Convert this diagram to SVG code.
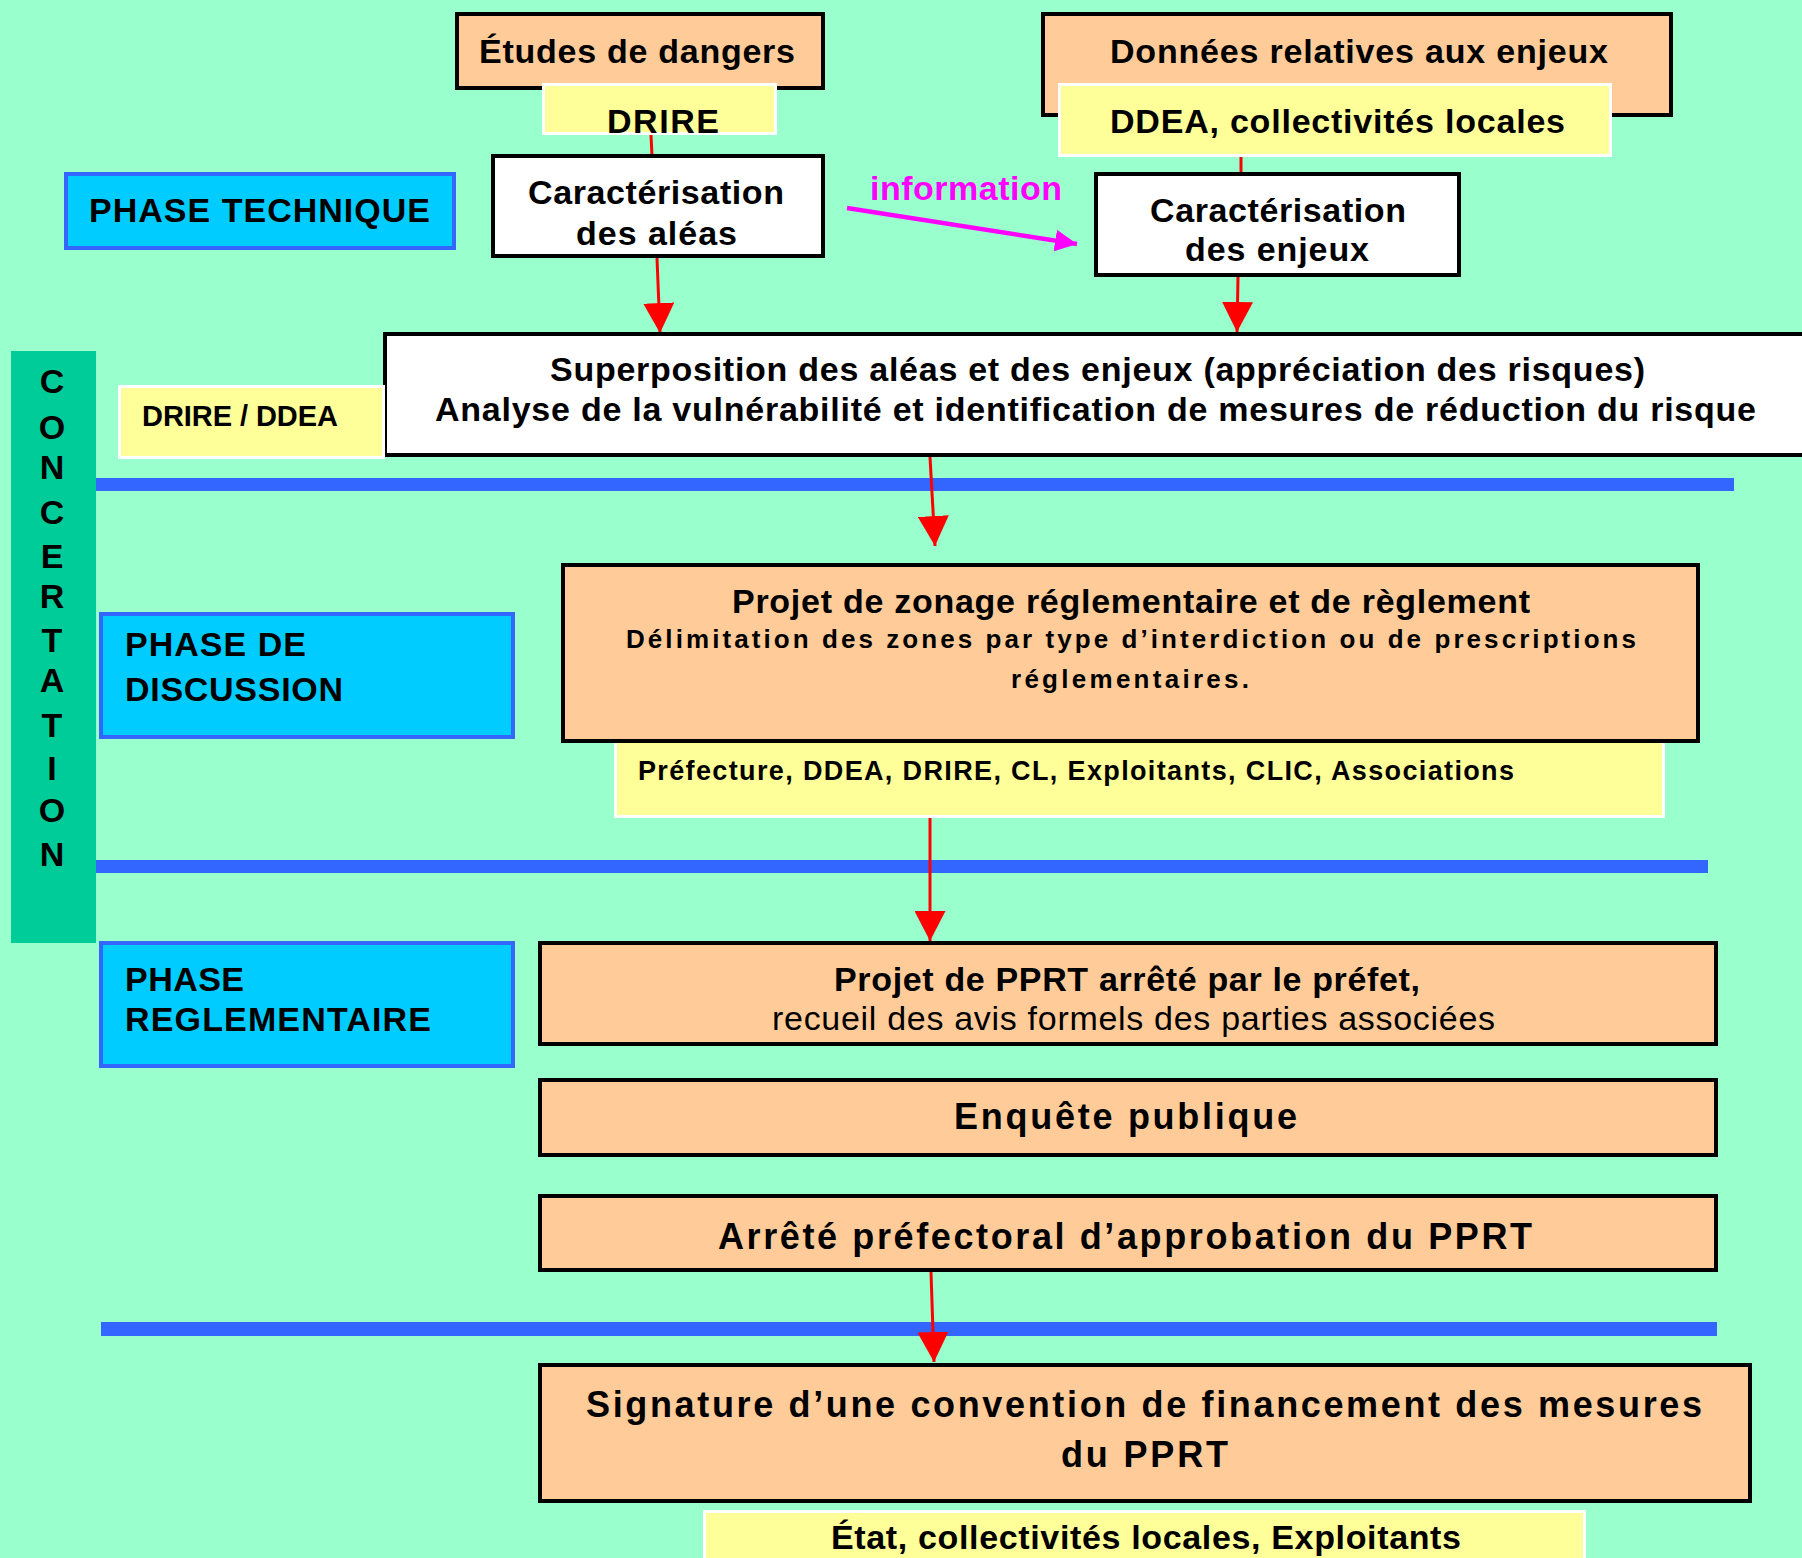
<svg xmlns="http://www.w3.org/2000/svg" width="1802" height="1558" viewBox="0 0 1802 1558">
<style>
text{font-family:"Liberation Sans",Arial,sans-serif;font-weight:bold;fill:#000}
.peach{fill:#FFCC99;stroke:#000;stroke-width:4}
.white{fill:#FFFFFF;stroke:#000;stroke-width:4}
.yellow{fill:#FFFF99;stroke:#FFFFFF;stroke-width:3}
.phase{fill:#00CCFF;stroke:#3366FF;stroke-width:4}
.sep{fill:#3366FF}
.red{stroke:#FF0000;stroke-width:3;fill:none}
.f34{font-size:34px}
.f36{font-size:36px}
.f29{font-size:29px}
.f27{font-size:27px}
.f26{font-size:26px}
</style>
<defs>
<marker id="redHead" markerUnits="userSpaceOnUse" markerWidth="30" markerHeight="31" refX="30" refY="15.5" orient="auto">
<path d="M0,0 L30,15.5 L0,31 Z" fill="#FF0000"/>
</marker>
<marker id="magHead" markerUnits="userSpaceOnUse" markerWidth="22" markerHeight="22" refX="22" refY="11" orient="auto">
<path d="M0,0 L22,11 L0,22 Z" fill="#FF00FF"/>
</marker>
</defs>
<rect x="0" y="0" width="1802" height="1558" fill="#99FFCC"/>

<g id="separators">
<rect class="sep" x="96" y="478" width="1638" height="13"/>
<rect class="sep" x="96" y="860" width="1612" height="13"/>
<rect class="sep" x="101" y="1322" width="1616" height="14"/>
</g>

<g id="concertation">
<rect x="11" y="351" width="85" height="592" fill="#00CC99"/>
<g class="f34" text-anchor="middle">
<text x="52" y="393">C</text>
<text x="52" y="439">O</text>
<text x="52" y="479">N</text>
<text x="52" y="524">C</text>
<text x="52" y="568">E</text>
<text x="52" y="608">R</text>
<text x="52" y="652">T</text>
<text x="52" y="692">A</text>
<text x="52" y="737">T</text>
<text x="52" y="780">I</text>
<text x="52" y="822">O</text>
<text x="52" y="866">N</text>
</g>
</g>

<g id="connectors">
<line class="red" x1="651" y1="135" x2="652" y2="156"/>
<line class="red" x1="1241" y1="157" x2="1241" y2="174"/>
<line class="red" x1="657" y1="258" x2="660" y2="333" marker-end="url(#redHead)"/>
<line class="red" x1="1238" y1="277" x2="1237" y2="332" marker-end="url(#redHead)"/>
<line class="red" x1="930" y1="457" x2="935" y2="546" marker-end="url(#redHead)"/>
<line class="red" x1="930" y1="818" x2="930" y2="941" marker-end="url(#redHead)"/>
<line class="red" x1="931" y1="1272" x2="934" y2="1362" marker-end="url(#redHead)"/>
<line x1="847" y1="208" x2="1077" y2="244" stroke="#FF00FF" stroke-width="4.5" marker-end="url(#magHead)"/>
<text x="870" y="200" class="f34" textLength="192" lengthAdjust="spacing" style="fill:#FF00FF">information</text>
</g>

<g id="etudes">
<rect class="peach" x="457" y="14" width="366" height="74"/>
<text x="479" y="63" class="f34" textLength="316" lengthAdjust="spacing">Études de dangers</text>
</g>
<g id="drire">
<rect class="yellow" x="543.5" y="84.5" width="232" height="49"/>
<text x="607" y="133" class="f34" textLength="112" lengthAdjust="spacing">DRIRE</text>
</g>
<g id="caract-aleas">
<rect class="white" x="493" y="156" width="330" height="100"/>
<text x="528" y="204" class="f34" textLength="256" lengthAdjust="spacing">Caractérisation</text>
<text x="576" y="245" class="f34" textLength="161" lengthAdjust="spacing">des aléas</text>
</g>
<g id="phase-technique">
<rect class="phase" x="66" y="174" width="388" height="74"/>
<text x="89" y="222" class="f34" textLength="341" lengthAdjust="spacing">PHASE TECHNIQUE</text>
</g>
<g id="donnees">
<rect class="peach" x="1043" y="14" width="628" height="101"/>
<text x="1110" y="63" class="f34" textLength="498" lengthAdjust="spacing">Données relatives aux enjeux</text>
</g>
<g id="ddea">
<rect class="yellow" x="1059.5" y="84.5" width="551" height="71"/>
<text x="1110" y="133" class="f34" textLength="455" lengthAdjust="spacing">DDEA, collectivités locales</text>
</g>
<g id="caract-enjeux">
<rect class="white" x="1096" y="174" width="363" height="101"/>
<text x="1150" y="222" class="f34" textLength="256" lengthAdjust="spacing">Caractérisation</text>
<text x="1185" y="261" class="f34" textLength="184" lengthAdjust="spacing">des enjeux</text>
</g>
<g id="superposition">
<rect class="white" x="385" y="334" width="1430" height="121"/>
<text x="550" y="381" class="f34" textLength="1095" lengthAdjust="spacing">Superposition des aléas et des enjeux (appréciation des risques)</text>
<text x="435" y="421" class="f34" textLength="1321" lengthAdjust="spacing">Analyse de la vulnérabilité et identification de mesures de réduction du risque</text>
</g>
<g id="drire-ddea">
<rect class="yellow" x="119.5" y="386.5" width="264" height="71"/>
<text x="142" y="426" class="f29" textLength="196" lengthAdjust="spacing">DRIRE / DDEA</text>
</g>
<g id="acteurs-discussion">
<rect class="yellow" x="615.5" y="735" width="1048" height="81.5"/>
<text x="638" y="780" class="f27" textLength="876" lengthAdjust="spacing">Préfecture, DDEA,  DRIRE, CL, Exploitants, CLIC, Associations</text>
</g>
<g id="projet-zonage">
<rect class="peach" x="563" y="565" width="1135" height="176"/>
<text x="732" y="613" class="f34" textLength="798" lengthAdjust="spacing">Projet de zonage réglementaire et de règlement</text>
<text x="626" y="648" class="f26" textLength="1010" lengthAdjust="spacing">Délimitation des zones par type d’interdiction ou de prescriptions</text>
<text x="1011" y="688" class="f26" textLength="238" lengthAdjust="spacing">réglementaires.</text>
</g>
<g id="phase-discussion">
<rect class="phase" x="101" y="614" width="412" height="123"/>
<text x="125" y="656" class="f34" textLength="181" lengthAdjust="spacing">PHASE DE</text>
<text x="125" y="701" class="f34" textLength="218" lengthAdjust="spacing">DISCUSSION</text>
</g>
<g id="phase-reglementaire">
<rect class="phase" x="101" y="943" width="412" height="123"/>
<text x="125" y="991" class="f34" textLength="119" lengthAdjust="spacing">PHASE</text>
<text x="125" y="1031" class="f34" textLength="306" lengthAdjust="spacing">REGLEMENTAIRE</text>
</g>
<g id="projet-pprt">
<rect class="peach" x="540" y="943" width="1176" height="101"/>
<text x="834" y="991" class="f34" textLength="586" lengthAdjust="spacing">Projet de PPRT arrêté par le préfet,</text>
<text x="772" y="1030" class="f34" textLength="723" lengthAdjust="spacing" style="font-weight:normal">recueil des avis formels des parties associées</text>
</g>
<g id="enquete">
<rect class="peach" x="540" y="1080" width="1176" height="75"/>
<text x="954" y="1129" class="f36" textLength="343" lengthAdjust="spacing">Enquête publique</text>
</g>
<g id="arrete">
<rect class="peach" x="540" y="1196" width="1176" height="74"/>
<text x="718" y="1249" class="f36" textLength="814" lengthAdjust="spacing">Arrêté préfectoral d’approbation du PPRT</text>
</g>
<g id="signature">
<rect class="peach" x="540" y="1365" width="1210" height="136"/>
<text x="586" y="1417" class="f36" textLength="1116" lengthAdjust="spacing">Signature d’une convention de financement des mesures</text>
<text x="1061" y="1467" class="f36" textLength="167" lengthAdjust="spacing">du PPRT</text>
</g>
<g id="financeurs">
<rect class="yellow" x="704.5" y="1511.5" width="880" height="60"/>
<text x="831" y="1549" class="f34" textLength="630" lengthAdjust="spacing">État, collectivités locales, Exploitants</text>
</g>
</svg>
